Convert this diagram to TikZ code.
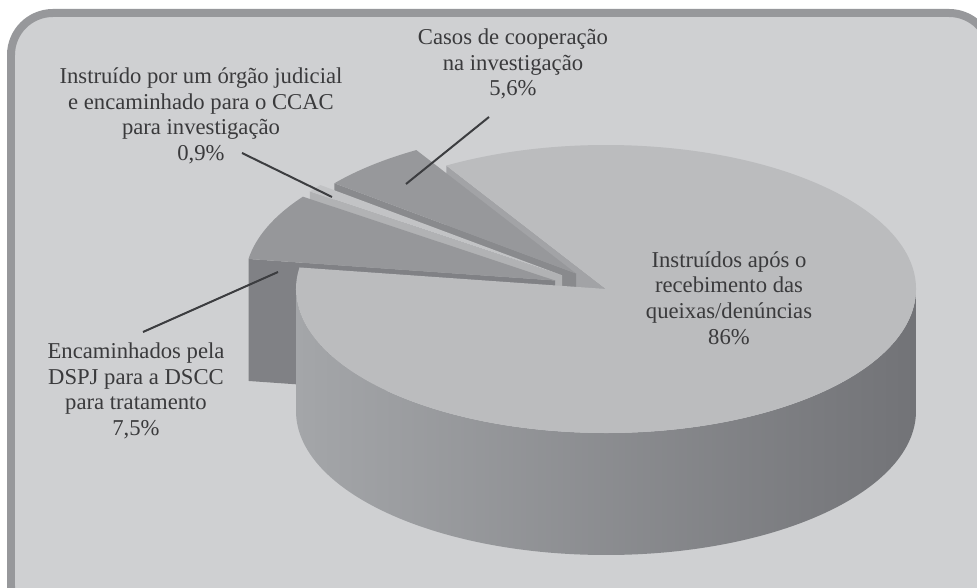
\documentclass[tikz,border=0pt]{standalone}
\usepackage{fontspec}
\setmainfont{Liberation Serif}
\usetikzlibrary{calc}

\definecolor{framegray}{HTML}{97989B}
\definecolor{panelgray}{HTML}{CFD0D2}
\definecolor{textgray}{HTML}{3A3A3C}
\definecolor{linegray}{HTML}{3C3D40}
\definecolor{maintop}{HTML}{BBBCBE}
\definecolor{mainface}{HTML}{A2A3A6}
\definecolor{mainleft}{HTML}{A4A6A9}
\definecolor{mainmid}{HTML}{8E8F92}
\definecolor{mainright}{HTML}{727377}
\definecolor{casostop}{HTML}{97989B}
\definecolor{casosface}{HTML}{898A8D}
\definecolor{instrtop}{HTML}{C2C3C5}
\definecolor{instrface}{HTML}{B1B2B4}
\definecolor{enctop}{HTML}{96979A}
\definecolor{encface}{HTML}{808185}

\begin{document}
\begin{tikzpicture}[x=0.02cm, y=0.02cm,
  lbl/.style={align=center, text=textgray, inner sep=0pt, font=\fontsize{12.9}{14.6}\selectfont},
  leader/.style={draw=linegray, line width=0.04cm}]

% the page and the panel
\useasboundingbox (0,0) rectangle (977,588);
\clip (0,0) rectangle (977,588);
\fill[white] (0,0) rectangle (977,588);
\filldraw[fill = panelgray, draw = framegray, line width = 0.16cm, rounded corners = 0.84cm] (11,575) rectangle (991,-40);

% constants
\coordinate (c) at (606,299);
\coordinate (h) at (0,-122);

% offsets of the pulled out slices
\coordinate (dcasos) at (-30,15.5);
\coordinate (dinstr) at (-44,13.7);
\coordinate (denc) at (-51,8.5);

% big slice, face on the cut at 121
\coordinate (m0) at (c);
\coordinate (m1) at ($(c) + (121:310 and 144)$);
\fill[mainface] (m0) -- (m1) -- ($(m1) + (h)$) -- ($(m0) + (h)$) -- cycle;

% casos de cooperacao
\coordinate (k0) at ($(c) + (dcasos)$);
\coordinate (k1) at ($(k0) + (141.2:310 and 144)$);
\fill[casosface] (k0) -- (k1) -- ($(k1) + (h)$) -- ($(k0) + (h)$) -- cycle;
\fill[casostop] (k0) -- ($(k0) + (121:310 and 144)$) arc[start angle = 121, end angle = 141.2, x radius = 310, y radius = 144] -- cycle;

% instruido por um orgao judicial
\coordinate (i0) at ($(c) + (dinstr)$);
\coordinate (i1) at ($(i0) + (144.4:310 and 144)$);
\fill[instrface] (i0) -- (i1) -- ($(i1) + (h)$) -- ($(i0) + (h)$) -- cycle;
\fill[instrtop] (i0) -- ($(i0) + (141.2:310 and 144)$) arc[start angle = 141.2, end angle = 144.4, x radius = 310, y radius = 144] -- cycle;

% encaminhados pela DSPJ
\coordinate (e0) at ($(c) + (denc)$);
\coordinate (e1) at ($(e0) + (171.4:310 and 144)$);
\fill[encface] (e0) -- (e1) -- ($(e1) + (h)$) -- ($(e0) + (h)$) -- cycle;
\fill[enctop] (e0) -- ($(e0) + (144.4:310 and 144)$) arc[start angle = 144.4, end angle = 171.4, x radius = 310, y radius = 144] -- cycle;

% big slice, side and top
\shade[left color = mainleft, middle color = mainmid, right color = mainright] ($(c) + (180:310 and 144)$) arc[start angle = 180, end angle = 360, x radius = 310, y radius = 144] -- ++(h) arc[start angle = 360, end angle = 180, x radius = 310, y radius = 144] -- cycle;
\fill[maintop] (c) -- ($(c) + (171.4:310 and 144)$) arc[start angle = 171.4, end angle = 481, x radius = 310, y radius = 144] -- cycle;

% labels
\node[lbl] (instr) at (201,472) {Instruído por um órgão judicial\\ e encaminhado para o CCAC\\ para investigação\\ 0,9\%};
\node[lbl] (casos) at (513,524) {Casos de cooperação\\ na investigação\\ 5,6\%};
\node[lbl] (main) at (729,290) {Instruídos após o\\ recebimento das\\ queixas/denúncias\\ 86\%};
\node[lbl] (enc) at (136,197) {Encaminhados pela\\ DSPJ para a DSCC\\ para tratamento\\ 7,5\%};

% leaders
\coordinate (instr tail) at (242,435);
\coordinate (instr tip) at (332,391);
\coordinate (casos tail) at (489,471);
\coordinate (casos tip) at (406,404);
\coordinate (enc tail) at (143,256);
\coordinate (enc tip) at (278,316);
\draw[leader] (instr tail) -- (instr tip);
\draw[leader] (casos tail) -- (casos tip);
\draw[leader] (enc tail) -- (enc tip);
\end{tikzpicture}
\end{document}
